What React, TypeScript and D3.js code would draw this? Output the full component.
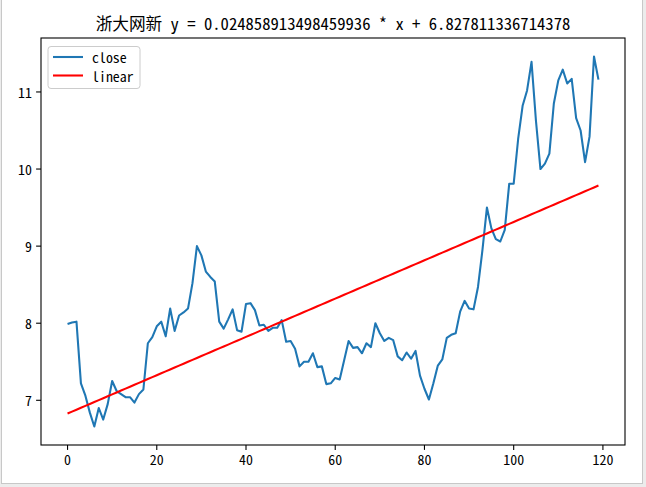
import React from "react";
import * as d3 from "d3";

// closing prices, one per trading day (index 0..119)
const closeValues: number[] = [
  7.99, 8.01, 8.02, 7.22, 7.06, 6.84, 6.66, 6.9, 6.75, 6.95,
  7.25, 7.12, 7.08, 7.04, 7.04, 6.97, 7.08, 7.14, 7.74, 7.82,
  7.96, 8.02, 7.83, 8.19, 7.9, 8.1, 8.14, 8.19, 8.52, 9.0,
  8.88, 8.67, 8.6, 8.54, 8.02, 7.93, 8.05, 8.18, 7.91, 7.89,
  8.25, 8.26, 8.17, 7.97, 7.98, 7.9, 7.94, 7.94, 8.04, 7.76,
  7.77, 7.67, 7.44, 7.5, 7.5, 7.61, 7.43, 7.44, 7.21, 7.22,
  7.29, 7.27, 7.52, 7.77, 7.68, 7.69, 7.61, 7.74, 7.69, 8.0,
  7.87, 7.77, 7.81, 7.78, 7.57, 7.52, 7.62, 7.54, 7.64, 7.32,
  7.15, 7.01, 7.22, 7.45, 7.53, 7.81, 7.85, 7.87, 8.15, 8.29,
  8.19, 8.18, 8.47, 8.95, 9.5, 9.23, 9.09, 9.06, 9.21, 9.81,
  9.81, 10.39, 10.82, 11.02, 11.39, 10.62, 10.0, 10.07, 10.2, 10.85,
  11.15, 11.29, 11.11, 11.17, 10.66, 10.5, 10.09, 10.42, 11.46, 11.16,
];

const slope = 0.024858913498459936;
const intercept = 6.827811336714378;
const stockName = "浙大网新";

const xTicks = [0, 20, 40, 60, 80, 100, 120];
const yTicks = [7, 8, 9, 10, 11];
const legendLabels = ["close", "linear"];

const width = 646;
const height = 487;
const margin = { top: 38, right: 21, bottom: 42, left: 41 };

const font = '"Noto Sans Mono CJK SC", "Liberation Mono", monospace';

function App() {
  const idx = closeValues.map((_, i) => i);
  const linearValues = idx.map((i) => slope * i + intercept);

  // matplotlib style 5% margins
  const xExt = [0, idx.length - 1];
  const xPad = (xExt[1] - xExt[0]) * 0.05;
  const allY = closeValues.concat(linearValues);
  const yMin = d3.min(allY) as number;
  const yMax = d3.max(allY) as number;
  const yPad = (yMax - yMin) * 0.05;

  const x = d3
    .scaleLinear()
    .domain([xExt[0] - xPad, xExt[1] + xPad])
    .range([margin.left, width - margin.right]);
  const y = d3
    .scaleLinear()
    .domain([yMin - yPad, yMax + yPad])
    .range([height - margin.bottom, margin.top]);

  const line = d3
    .line<number>()
    .x((_, i) => x(i))
    .y((d) => y(d));

  const left = margin.left;
  const right = width - margin.right;
  const top = margin.top;
  const bottom = height - margin.bottom;

  return (
    <div style={{ position: "fixed", left: 0, top: 0 }}>
      <svg width={width} height={height} style={{ display: "block" }}>
        <rect x={0} y={0} width={width} height={height} fill="#ececec" />
        <rect x={1.5} y={-1} width={641} height={484.5} fill="#fff" stroke="#c8c8c8" />

        <text
          x={(left + right) / 2}
          y={30}
          textAnchor="middle"
          fontFamily={font}
          fontSize={16.67}
          fill="#000"
        >
          {`${stockName} y = ${slope} * x + ${intercept}`}
        </text>

        <path d={line(closeValues) || ""} fill="none" stroke="#1f77b4" strokeWidth={2.08} strokeLinejoin="round" />
        <path d={line(linearValues) || ""} fill="none" stroke="#ff0000" strokeWidth={2.08} />

        <rect x={left} y={top} width={right - left} height={bottom - top} fill="none" stroke="#000" strokeWidth={1.1} />

        {xTicks.map((t) => (
          <g key={`x${t}`}>
            <line x1={x(t)} x2={x(t)} y1={bottom} y2={bottom + 4.9} stroke="#000" strokeWidth={1.1} />
            <text
              x={x(t)}
              y={bottom + 20}
              textAnchor="middle"
              fontFamily={font}
              fontSize={13.9}
            >
              {t}
            </text>
          </g>
        ))}

        {yTicks.map((t) => (
          <g key={`y${t}`}>
            <line x1={left - 4.9} x2={left} y1={y(t)} y2={y(t)} stroke="#000" strokeWidth={1.1} />
            <text
              x={left - 9}
              y={y(t)}
              textAnchor="end"
              dominantBaseline="central"
              fontFamily={font}
              fontSize={13.9}
            >
              {t}
            </text>
          </g>
        ))}

        <g>
          <rect x={48} y={46.5} width={92} height={42} rx={3} fill="#fff" fillOpacity={0.8} stroke="#cccccc" />
          {legendLabels.map((name, i) => (
            <g key={name}>
              <line
                x1={53}
                x2={83}
                y1={57 + i * 18.5}
                y2={57 + i * 18.5}
                stroke={i === 0 ? "#1f77b4" : "#ff0000"}
                strokeWidth={2.08}
              />
              <text x={92} y={57 + i * 18.5} dominantBaseline="central" fontFamily={font} fontSize={13.9}>
                {name}
              </text>
            </g>
          ))}
        </g>
      </svg>
    </div>
  );
}

export default App;
